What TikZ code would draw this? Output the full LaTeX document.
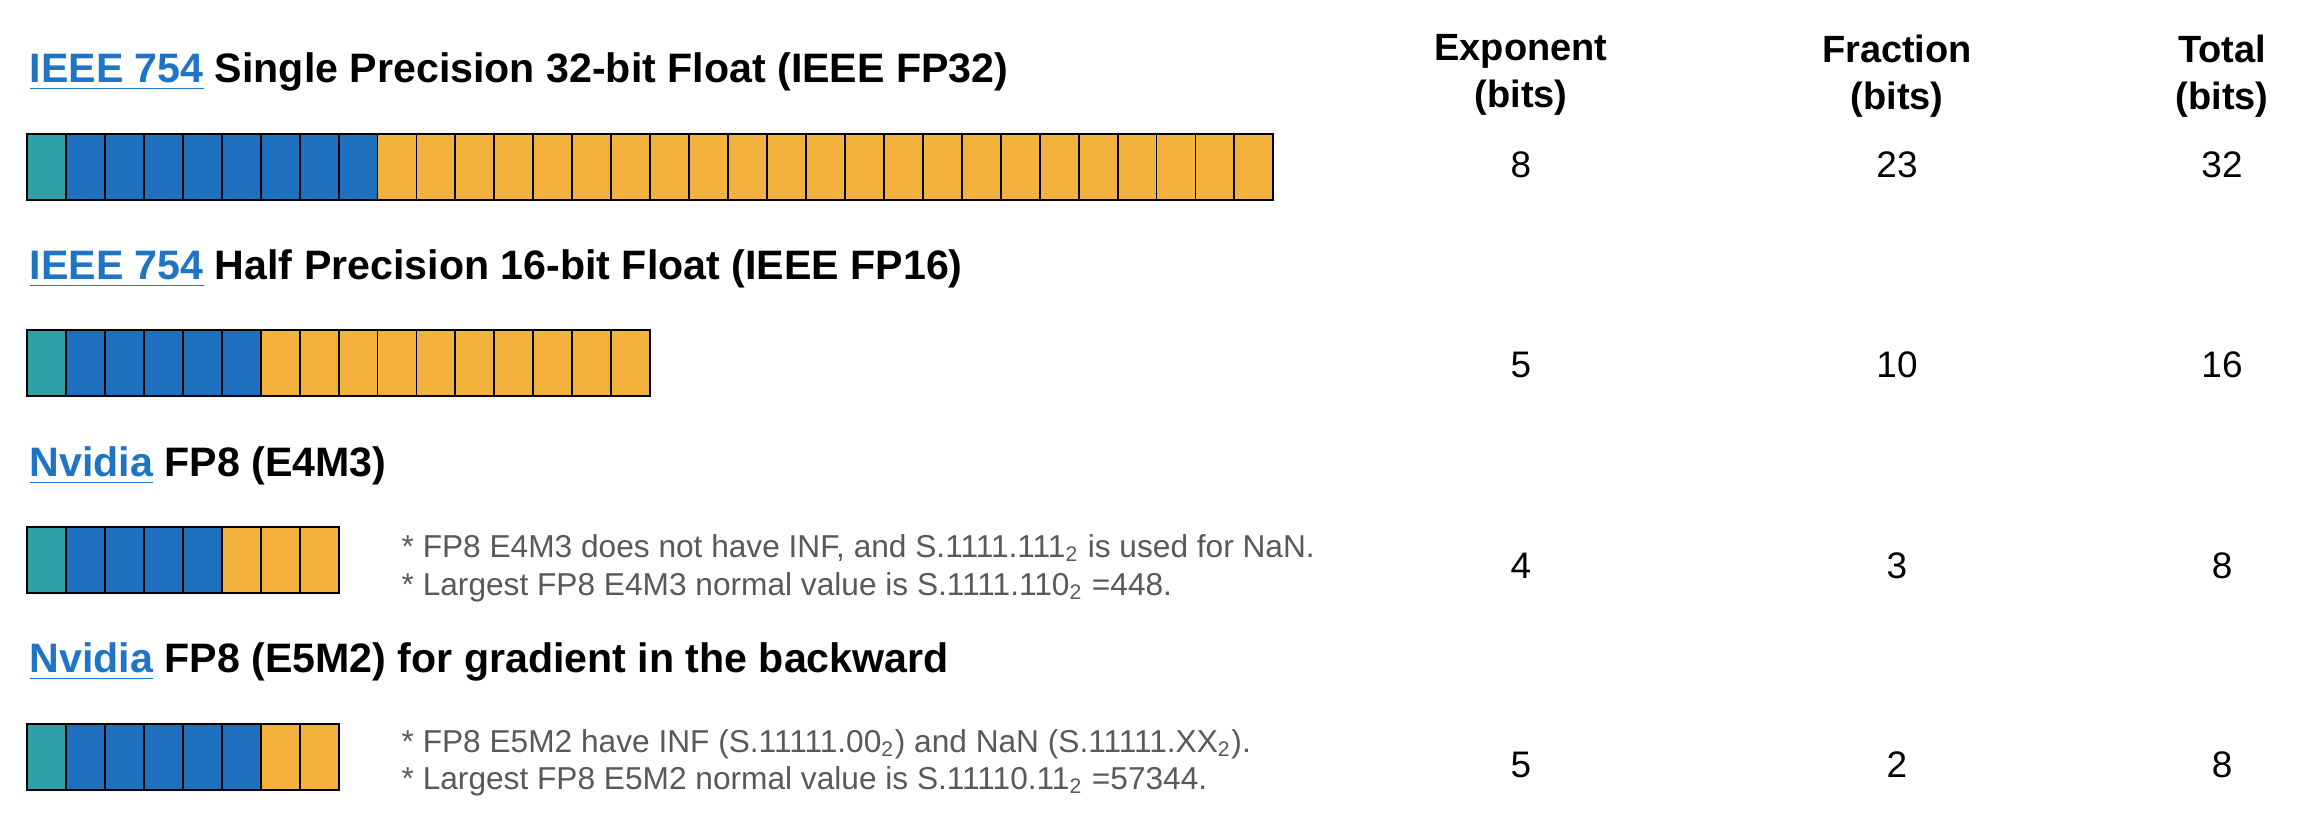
\documentclass[tikz,border=0pt]{standalone}
\usepackage{fontspec}
\setmainfont{Liberation Sans}
\definecolor{signc}{HTML}{2E9EA7}
\definecolor{expc}{HTML}{1F71BF}
\definecolor{fracc}{HTML}{F3B23E}
\definecolor{linkblue}{HTML}{1F74C6}
\definecolor{notegray}{HTML}{595959}
\newcommand{\lnk}[1]{\textcolor{linkblue}{\underline{#1}}}
% one row of bit cells: name, top, exponent bits, total bits
\newcommand{\bitbar}[4]{%
  \pgfmathtruncatemacro\lastbit{#4-1}
  \foreach \i in {0,...,\lastbit} {
    \ifnum\i=0 \def\bitcol{signc}\else\ifnum\i>#3 \def\bitcol{fracc}\else\def\bitcol{expc}\fi\fi
    \node[bitcell, fill=\bitcol] (#1-\i) at (26+38.95*\i, #2) {};
  }
}
\begin{document}
\begin{tikzpicture}[x=0.01cm, y=-0.01cm,
    bitcell/.style={draw=black, line width=0.55pt, rectangle, inner sep=0pt, anchor=north west,
      minimum width=0.3895cm, minimum height=0.66cm},
    title/.style={anchor=base west, inner sep=0pt, font=\fontsize{11.7}{14}\selectfont\bfseries},
    head/.style={anchor=north, inner sep=0pt, align=center, font=\fontsize{10.8}{13.4}\selectfont\bfseries},
    val/.style={anchor=base, inner sep=0pt, font=\fontsize{10.5}{12.6}\selectfont},
    note/.style={anchor=base west, inner sep=0pt, text=notegray, font=\fontsize{9}{10.8}\selectfont}]
  \path[fill=white, use as bounding box] (0,0) rectangle (2320,834);

  % titles
  \node[title] (fp32) at (29,83) {\lnk{IEEE 754} Single Precision 32-bit Float (IEEE FP32)};
  \node[title] (fp16) at (29,280) {\lnk{IEEE 754} Half Precision 16-bit Float (IEEE FP16)};
  \node[title] (e4m3) at (29,477) {\lnk{Nvidia} FP8 (E4M3)};
  \node[title] (e5m2) at (29,673) {\lnk{Nvidia} FP8 (E5M2) for gradient in the backward};

  % bit rows
  \bitbar{b32}{133}{8}{32}
  \bitbar{b16}{329}{5}{16}
  \bitbar{b43}{526}{4}{8}
  \bitbar{b52}{723}{5}{8}

  % notes
  \node[note] (n43a) at (401,558) {* FP8 E4M3 does not have INF, and S.1111.111\textsubscript{2} is used for NaN.};
  \node[note] (n43b) at (401,596) {* Largest FP8 E4M3 normal value is S.1111.110\textsubscript{2} =448.};
  \node[note] (n52a) at (401,753) {* FP8 E5M2 have INF (S.11111.00\textsubscript{2}) and NaN (S.11111.XX\textsubscript{2}).};
  \node[note] (n52b) at (401,790) {* Largest FP8 E5M2 normal value is S.11110.11\textsubscript{2} =57344.};

  % table
  \node[head] (hexp) at (1521,34) {Exponent\\(bits)};
  \node[head] (hfrac) at (1897,34) {Fraction\\(bits)};
  \node[head] (htot) at (2222,34) {Total\\(bits)};

  \node[val] (exp32) at (1521,178) {8};
  \node[val] (frac32) at (1897,178) {23};
  \node[val] (tot32) at (2222,178) {32};
  \node[val] (exp16) at (1521,378) {5};
  \node[val] (frac16) at (1897,378) {10};
  \node[val] (tot16) at (2222,378) {16};
  \node[val] (exp43) at (1521,579) {4};
  \node[val] (frac43) at (1897,579) {3};
  \node[val] (tot43) at (2222,579) {8};
  \node[val] (exp52) at (1521,778) {5};
  \node[val] (frac52) at (1897,778) {2};
  \node[val] (tot52) at (2222,778) {8};
\end{tikzpicture}
\end{document}
